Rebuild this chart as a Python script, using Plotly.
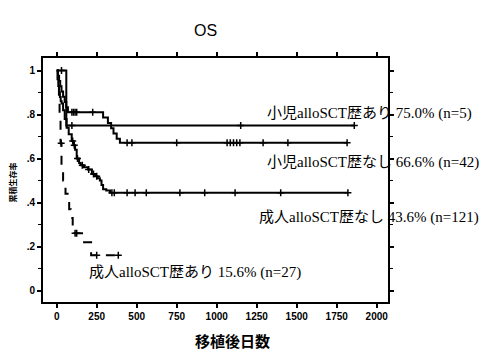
import numpy as np
import plotly.graph_objects as go

# ---- data ----
child_yes_t = [0, 60, 1860]
child_yes_s = [1.0, 0.75, 0.75]
child_yes_c = [30, 95, 1150, 1860]

child_no_t = [0, 8, 15, 22, 30, 40, 50, 60, 70, 290, 320, 340, 355, 375, 395, 1815]
child_no_s = [1.0, 0.976, 0.952, 0.929, 0.905, 0.881, 0.857, 0.833, 0.81, 0.786, 0.762, 0.738, 0.714, 0.69, 0.672, 0.672]
child_no_c = [95, 105, 115, 125, 225, 440, 470, 750, 1065, 1085, 1105, 1125, 1145, 1290, 1445, 1815]

adult_no_t = [0, 5, 10, 15, 20, 25, 31, 40, 50, 62, 75, 94, 105, 115, 125, 140, 150, 170, 196, 220, 240, 255, 270, 280, 290, 310, 333, 1820]
adult_no_s = [1.0, 0.96, 0.93, 0.9, 0.88, 0.86, 0.85, 0.82, 0.78, 0.74, 0.71, 0.68, 0.66, 0.64, 0.6, 0.58, 0.57, 0.56, 0.55, 0.53, 0.52, 0.51, 0.5, 0.48, 0.46, 0.455, 0.444, 0.444]
adult_no_c = [100, 110, 130, 160, 200, 230, 250, 345, 360, 440, 490, 560, 770, 925, 1115, 1400, 1820]

adult_yes_t = [0, 8, 14, 18, 24, 30, 40, 55, 68, 78, 88, 100, 158, 215, 385]
adult_yes_s = [1.0, 0.96, 0.89, 0.78, 0.67, 0.56, 0.5, 0.44, 0.41, 0.37, 0.33, 0.26, 0.22, 0.16, 0.16]
adult_yes_c = [28, 115, 125, 250, 385]

labels = ["小児alloSCT歴あり 75.0% (n=5)",
          "小児alloSCT歴なし 66.6% (n=42)",
          "成人alloSCT歴なし 43.6% (n=121)",
          "成人alloSCT歴あり 15.6% (n=27)"]
x_ticks = [0, 250, 500, 750, 1000, 1250, 1500, 1750, 2000]
y_ticks = [0, 0.2, 0.4, 0.6, 0.8, 1.0]
y_ticktext = ["0", ".2", ".4", ".6", ".8", "1"]

def step_at(t, s, c):
    idx = np.searchsorted(np.array(t), np.array(c), side="right") - 1
    return list(np.array(s)[idx])

fig = go.Figure()
curves = [
    (child_yes_t, child_yes_s, child_yes_c, "solid"),
    (child_no_t, child_no_s, child_no_c, "solid"),
    (adult_no_t, adult_no_s, adult_no_c, "solid"),
    (adult_yes_t, adult_yes_s, adult_yes_c, "dash"),
]
for t, s, c, dash in curves:
    fig.add_trace(go.Scatter(x=t, y=s, mode="lines", line_shape="hv",
                             line=dict(color="black", width=2, dash=dash),
                             showlegend=False, hoverinfo="skip"))
    fig.add_trace(go.Scatter(x=c, y=step_at(t, s, c), mode="markers",
                             marker=dict(symbol="cross-thin", size=5, color="black",
                                         line=dict(width=1.5, color="black")),
                             showlegend=False, hoverinfo="skip"))

lab_font = dict(family="Liberation Serif, Noto Sans CJK JP", size=15, color="black")
label_pos = [(1302, 0.807), (1302, 0.584), (1252, 0.334), (189, 0.084)]
for txt, (lx, ly) in zip(labels, label_pos):
    fig.add_annotation(x=lx, y=ly, xref="x", yref="y", text=txt, showarrow=False,
                       xanchor="left", yanchor="middle", font=lab_font)

fig.add_annotation(x=0.472, y=1.156, xref="paper", yref="paper", text="OS", showarrow=False,
                   font=dict(family="Liberation Sans", size=16, color="black"))
fig.add_annotation(x=0.55, y=-0.158, xref="paper", yref="paper", text="移植後日数", showarrow=False,
                   yanchor="middle",
                   font=dict(family="Noto Sans CJK JP", size=15, color="black", weight="bold"))
fig.add_annotation(x=-0.11, y=0.488, xref="paper", yref="paper", text="累積生存率", showarrow=False,
                   textangle=-90, font=dict(family="Noto Sans CJK JP", size=8, color="black", weight="bold"))

axis_common = dict(showgrid=False, zeroline=False, showline=True, linecolor="black", linewidth=2,
                   ticks="outside", ticklen=4, tickwidth=1.5, tickcolor="black", mirror="ticks")
fig.update_xaxes(range=[-85.6, 2070.6], tickvals=x_ticks,
                 tickfont=dict(family="Liberation Sans", size=10, color="black", weight="bold"),
                 **axis_common)
fig.update_yaxes(range=[-0.052, 1.057], tickvals=y_ticks, ticktext=y_ticktext,
                 tickfont=dict(family="Liberation Sans", size=10, color="black", weight="bold"),
                 minor=dict(dtick=0.1, ticks="outside", ticklen=3, tickwidth=1.2, tickcolor="black"),
                 **axis_common)
fig.update_layout(width=503, height=352, margin=dict(l=43, r=115, t=58, b=50),
                  paper_bgcolor="white", plot_bgcolor="white")
fig.write_html("out.html")
